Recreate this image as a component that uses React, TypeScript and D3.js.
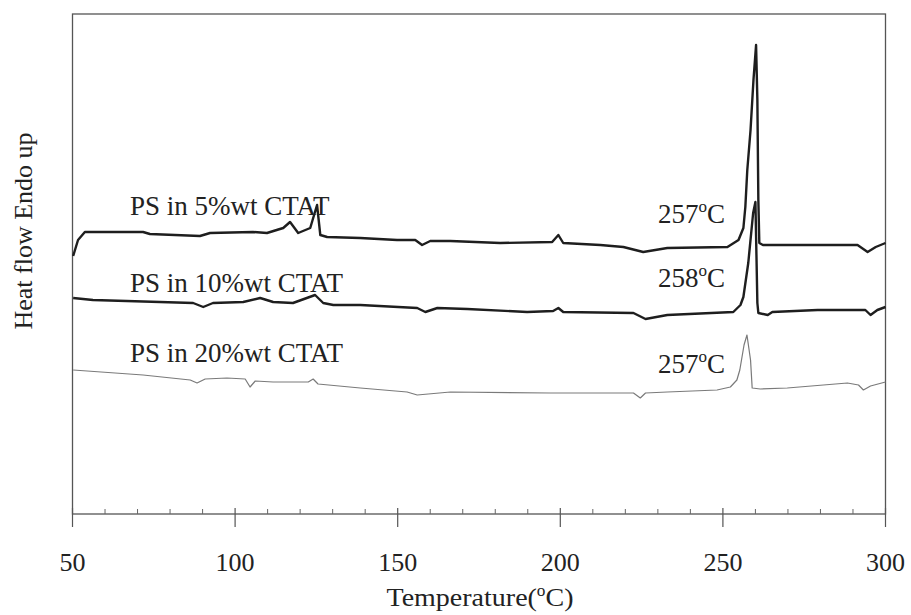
import React from "react";
import * as d3 from "d3";

// DSC traces: [temperature °C, heat flow (arb. units)]
const ps5wt: [number, number][] = [
  [50.2, 25.8], [51.7, 27.4], [53.8, 28.2], [71.7, 28.2], [73.8, 28.0], [89.2, 27.8],
  [92.3, 28.1], [105.5, 28.2], [109.8, 28.1], [114.8, 28.6], [116.9, 29.2], [119.4, 28.1],
  [123.1, 28.6], [125.2, 30.9], [126.2, 27.9], [128.3, 27.7], [138.5, 27.6], [149.8, 27.4],
  [155.4, 27.4], [157.5, 26.9], [160.0, 27.3], [166.2, 27.3], [181.5, 27.1], [197.5, 27.2],
  [199.4, 27.9], [200.9, 27.1], [212.3, 26.9], [219.4, 26.7], [225.5, 26.2], [232.9, 26.6],
  [251.4, 26.7], [254.8, 27.4], [256.3, 28.6], [256.9, 30.7], [257.5, 34.4], [258.5, 38.4],
  [259.4, 43.4], [260.2, 46.9], [260.6, 41.4], [260.9, 31.4], [261.2, 27.1], [262.3, 26.9],
  [291.4, 26.9], [294.5, 26.2], [297.0, 26.7], [300.0, 27.1],
];

const ps10wt: [number, number][] = [
  [50.2, 21.6], [56.3, 21.4], [76.9, 21.2], [87.1, 21.1], [90.2, 20.7], [93.2, 21.1],
  [102.5, 21.2], [107.7, 21.6], [111.7, 21.2], [117.8, 21.1], [124.6, 21.9], [127.1, 21.1],
  [130.2, 20.9], [138.5, 20.9], [156.0, 20.6], [158.5, 20.2], [162.2, 20.6], [171.4, 20.5],
  [189.8, 20.2], [197.8, 20.3], [199.4, 20.6], [200.9, 20.2], [222.5, 20.1], [226.2, 19.5],
  [232.9, 19.9], [253.2, 20.2], [255.4, 20.9], [256.3, 21.7], [257.8, 25.1], [259.3, 30.1],
  [260.0, 31.2], [260.6, 21.1], [260.9, 20.1], [263.8, 19.9], [265.2, 20.2], [279.1, 20.4],
  [293.8, 20.4], [295.4, 19.9], [297.5, 20.4], [300.0, 20.7],
];

const ps20wt: [number, number][] = [
  [50.2, 14.4], [71.7, 13.9], [86.2, 13.4], [88.3, 13.1], [90.8, 13.5], [97.5, 13.6],
  [103.1, 13.5], [104.6, 12.7], [106.2, 13.3], [111.7, 13.2], [122.5, 13.2], [124.0, 13.5],
  [125.5, 13.0], [138.5, 12.6], [152.9, 12.2], [156.0, 11.9], [166.2, 12.2], [196.9, 12.1],
  [222.5, 12.1], [224.6, 11.6], [226.2, 12.1], [232.9, 12.2], [248.2, 12.4], [252.3, 12.7],
  [254.3, 13.4], [255.2, 14.4], [256.5, 16.9], [257.4, 17.9], [258.5, 15.4], [259.0, 12.6],
  [261.5, 12.5], [269.8, 12.6], [288.3, 13.1], [291.7, 12.9], [293.2, 12.4], [295.4, 12.8],
  [300.0, 13.2],
];

const majorTicks = [50, 100, 150, 200, 250, 300];
const minorTicks = d3.range(60, 300, 10).filter((t) => t % 50 !== 0);

const seriesLabels = ["PS in 5%wt CTAT", "PS in 10%wt CTAT", "PS in 20%wt CTAT"];
const peakLabels = ["257", "258", "257"];

const W = 911;
const H = 615;
const margin = { top: 14, right: 25.5, bottom: 101, left: 72.5 };
const font = "'Liberation Serif', 'Times New Roman', serif";

export default function App() {
  const x = d3.scaleLinear().domain([50, 300]).range([margin.left, W - margin.right]);
  const y = d3.scaleLinear().domain([0, 50]).range([H - margin.bottom, margin.top]);
  const line = d3
    .line<[number, number]>()
    .x((d) => x(d[0]))
    .y((d) => y(d[1]));

  const x0 = x(50);
  const x1 = x(300);
  const yb = y(0);
  const yt = y(50);

  const curves = [
    { data: ps5wt, stroke: "#1e1e1e", width: 2.4 },
    { data: ps10wt, stroke: "#1e1e1e", width: 2.4 },
    { data: ps20wt, stroke: "#7a7a7a", width: 1.2 },
  ];
  // label baselines, in data units
  const labelY = [29.9, 22.2, 15.2];
  const peakY = [29.1, 22.7, 14.1];

  return (
    <svg
      width={W}
      height={H}
      style={{ position: "absolute", left: 0, top: 0, background: "#fff" }}
      fontFamily={font}
    >
      {/* frame */}
      <rect x={x0} y={yt} width={x1 - x0} height={yb - yt} fill="none" stroke="#555" strokeWidth={1.3} />

      {/* ticks */}
      {majorTicks.map((t) => (
        <line key={"M" + t} x1={x(t)} x2={x(t)} y1={yb - 6} y2={yb + 13} stroke="#555" strokeWidth={1.2} />
      ))}
      {minorTicks.map((t) => (
        <line key={"m" + t} x1={x(t)} x2={x(t)} y1={yb - 5} y2={yb} stroke="#666" strokeWidth={1} />
      ))}
      {majorTicks.map((t) => (
        <text key={"l" + t} x={x(t)} y={571} textAnchor="middle" fontSize={26} fill="#222">
          {t}
        </text>
      ))}

      <text x={480} y={606} textAnchor="middle" fontSize={26} fill="#222" textLength={187} lengthAdjust="spacingAndGlyphs">
        Temperature(<tspan fontSize={16} dy={-10}>o</tspan>
        <tspan dy={10}>C)</tspan>
      </text>
      <text transform="translate(32,231) rotate(-90)" textAnchor="middle" fontSize={26} fill="#222">
        Heat flow Endo up
      </text>

      {/* curves */}
      {curves.map((c, i) => (
        <path key={i} d={line(c.data) ?? ""} fill="none" stroke={c.stroke} strokeWidth={c.width} strokeLinejoin="round" />
      ))}

      {seriesLabels.map((s, i) => (
        <text key={s} x={130} y={y(labelY[i])} fontSize={27} fill="#222">
          {s}
        </text>
      ))}
      {peakLabels.map((p, i) => (
        <text key={i} x={725} y={y(peakY[i])} textAnchor="end" fontSize={27} fill="#222">
          {p}
          <tspan fontSize={17} dy={-11}>o</tspan>
          <tspan dy={11}>C</tspan>
        </text>
      ))}
    </svg>
  );
}
